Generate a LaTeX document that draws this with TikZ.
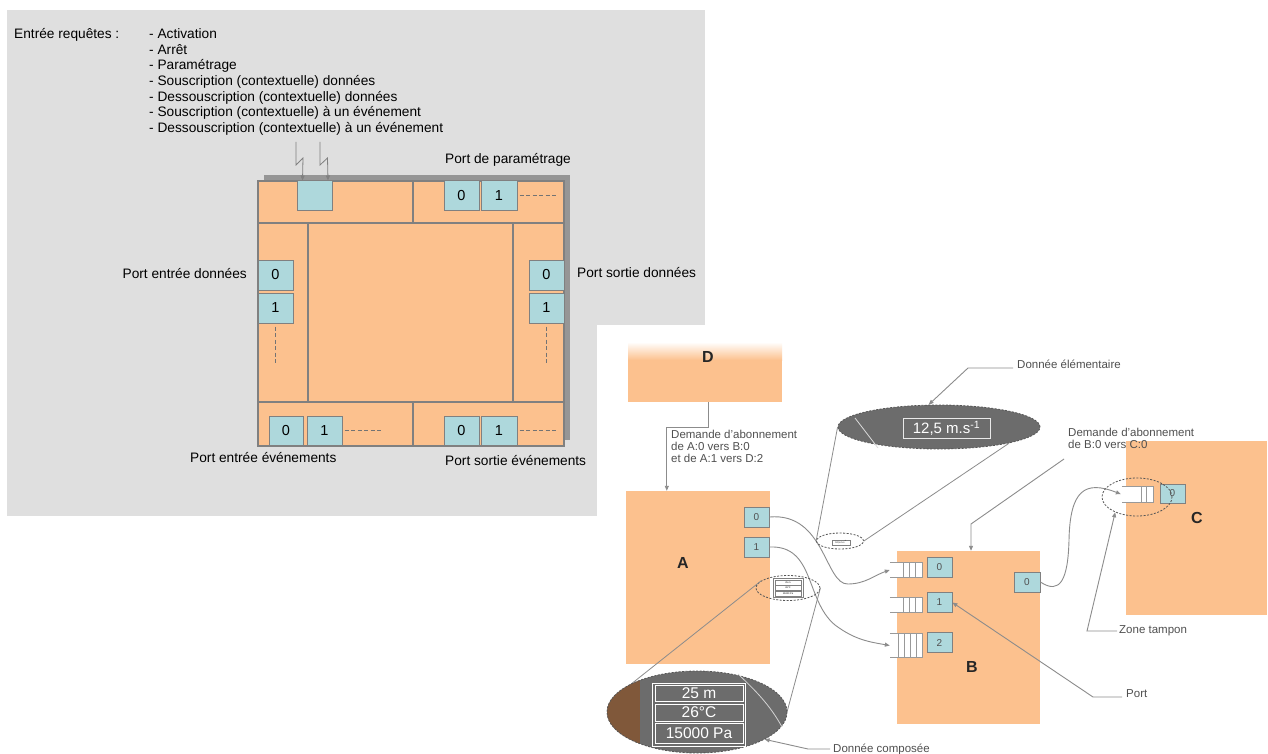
\documentclass[tikz,border=0pt]{standalone}
\usepackage{fontspec}
\setmainfont{Liberation Sans}
\usetikzlibrary{shapes.geometric,arrows.meta}
\definecolor{panelc}{RGB}{223,223,223}
\definecolor{orangec}{RGB}{252,193,142}
\definecolor{tealc}{RGB}{174,216,220}
\definecolor{bordc}{RGB}{128,128,128}
\definecolor{shadowc}{RGB}{150,150,150}
\definecolor{darkc}{RGB}{108,108,108}
\definecolor{brownc}{RGB}{128,88,58}
\definecolor{txtg}{RGB}{80,80,80}
\definecolor{lineg}{RGB}{140,140,140}
\newcommand\fsA{\fontsize{13.7}{15.6}\selectfont}
\newcommand\fsP{\fontsize{14.5}{16}\selectfont}
\newcommand\fsR{\fontsize{10}{12}\selectfont}
\newcommand\fsT{\fontsize{11.5}{12}\selectfont}
\newcommand\fsB{\fontsize{16}{18}\selectfont}
\newcommand\fsV{\fontsize{15.5}{17}\selectfont}
\newcommand\fsTiny{\fontsize{2.4}{3}\selectfont}
\begin{document}
\begin{tikzpicture}[x=1pt,y=-1pt,
 sec/.style={rectangle, draw=bordc, fill=orangec, line width=1.1pt, inner sep=0pt},
 lport/.style={rectangle, draw=bordc, fill=tealc, line width=1pt, inner sep=0pt, font=\fsP},
 lbl/.style={font=\fsA, inner sep=0pt},
 dashln/.style={draw=bordc!90!black, line width=1pt, dash pattern=on 4pt off 2.5pt},
 zig/.style={draw=bordc, line width=0.8pt, -{Triangle[length=5pt,width=4pt]}},
 rbox/.style={rectangle, fill=orangec, inner sep=0pt},
 rport/.style={rectangle, draw=bordc, fill=tealc, line width=0.8pt, inner sep=0pt, font=\fsR, text=txtg, minimum width=25pt, minimum height=20pt},
 buf/.style={rectangle, fill=white, inner sep=0pt, minimum width=32pt},
 bufl/.style={draw=bordc!80, line width=0.8pt},
 conn/.style={draw=lineg, line width=0.9pt, -{Triangle[length=5pt,width=4pt]}},
 cone/.style={draw=lineg, line width=0.8pt},
 dashell/.style={ellipse, draw=darkc!80!black, line width=0.8pt, dash pattern=on 2pt off 1.5pt, inner sep=0pt},
 rtxt/.style={font=\fsT, text=txtg, inner sep=0pt},
 bigl/.style={font=\fsB\bfseries, text=black!85, inner sep=0pt},
 vrow/.style={rectangle, draw=white, line width=0.8pt, text=white, font=\fsV, inner sep=0pt, minimum width=88pt},
 trow/.style={rectangle, draw=bordc, line width=0.3pt, fill=white, font=\fsTiny, inner sep=0pt, minimum width=26pt},
]
\useasboundingbox (0,0) rectangle (1268,754);
% ---------------- left panel ----------------
\fill[panelc] (7,10) rectangle (705,516);
\node[lbl, anchor=north west] (ereq) at (14,28) {Entrée requêtes :};
\node[lbl, anchor=north west, align=left] (reqlist) at (149,28.5) {- Activation\\- Arrêt\\- Paramétrage\\- Souscription (contextuelle) données\\- Dessouscription (contextuelle) données\\- Souscription (contextuelle) à un événement\\- Dessouscription (contextuelle) à un événement};
% shadow
\fill[shadowc] (264,175) rectangle (570,440);
% sections
\node[sec, minimum width=155pt, minimum height=42pt] (secTL) at (335.5,202) {};
\node[sec, minimum width=151pt, minimum height=42pt] (secTR) at (488.5,202) {};
\node[sec, minimum width=50pt, minimum height=179pt] (secML) at (283,312.5) {};
\node[sec, minimum width=205pt, minimum height=179pt] (secMC) at (410.5,312.5) {};
\node[sec, minimum width=51pt, minimum height=179pt] (secMR) at (538.5,312.5) {};
\node[sec, minimum width=155pt, minimum height=44pt] (secBL) at (335.5,424) {};
\node[sec, minimum width=151pt, minimum height=44pt] (secBR) at (488.5,424) {};
% ports
\node[lport, minimum width=35pt, minimum height=29pt] (reqp) at (314.5,195.5) {};
\node[lport, minimum width=35pt, minimum height=29pt] (pp0) at (461.5,195.5) {0};
\node[lport, minimum width=36pt, minimum height=29pt] (pp1) at (499,195.5) {1};
\node[lport, minimum width=35pt, minimum height=30pt] (ied0) at (275.5,275) {0};
\node[lport, minimum width=35pt, minimum height=30pt] (ied1) at (275.5,308) {1};
\node[lport, minimum width=35pt, minimum height=30pt] (osd0) at (546.5,275) {0};
\node[lport, minimum width=35pt, minimum height=30pt] (osd1) at (546.5,308) {1};
\node[lport, minimum width=34pt, minimum height=29pt] (iev0) at (286,430.5) {0};
\node[lport, minimum width=35pt, minimum height=29pt] (iev1) at (324.5,430.5) {1};
\node[lport, minimum width=35pt, minimum height=29pt] (oev0) at (461.5,430.5) {0};
\node[lport, minimum width=36pt, minimum height=29pt] (oev1) at (499,430.5) {1};
% continuation dashes
\draw[dashln] ([xshift=2pt]pp1.east) -- ++(38,0);
\draw[dashln] ([xshift=2pt]iev1.east) -- ++(38,0);
\draw[dashln] ([xshift=2pt]oev1.east) -- ++(38,0);
\draw[dashln] ([yshift=-3pt]ied1.south) -- ++(0,37);
\draw[dashln] ([yshift=-3pt]osd1.south) -- ++(0,37);
% lightning request arrows
\coordinate (z1) at (296,142);
\coordinate (z2) at (320,142);
\draw[zig] (z1) -- ++(0,23) -- ++(7,-7) -- ([xshift=6pt]reqp.north west);
\draw[zig] (z2) -- ++(0,23) -- ++(7.5,-7) -- ([xshift=-4.5pt]reqp.north east);
% labels
\node[lbl, anchor=west] (lpp) at (445,160) {Port de paramétrage};
\node[lbl, anchor=east] (lied) at (247,274) {Port entrée données};
\node[lbl, anchor=west] (losd) at (577,273) {Port sortie données};
\node[lbl, anchor=west] (liev) at (190,458) {Port entrée événements};
\node[lbl, anchor=west] (loev) at (445,461) {Port sortie événements};
% ---------------- right picture ----------------
\fill[white] (597,325) rectangle (1268,754);
% D box with fading top
\shade[top color=white, bottom color=orangec] (628,342) rectangle (782,360);
\fill[orangec] (628,359.5) rectangle (782,402);
\node[inner sep=0pt, minimum width=154pt, minimum height=60pt] (D) at (705,372) {};
\node[bigl] (Dl) at (708,357) {D};
% A, B, C boxes
\node[rbox, minimum width=144pt, minimum height=173pt] (A) at (698,577.5) {};
\node[rbox, minimum width=143pt, minimum height=173pt] (B) at (968.5,637.5) {};
\node[rbox, minimum width=141pt, minimum height=174pt] (C) at (1196.5,528) {};
\node[bigl] (Al) at (683,563) {A};
\node[bigl] (Bl) at (972,667) {B};
\node[bigl] (Cl) at (1197,518) {C};
% ports
\node[rport] (A0) at (756.5,517) {0};
\node[rport] (A1) at (756.5,547) {1};
\node[rport] (B0) at (939.5,567) {0};
\node[rport] (B1) at (939.5,602.5) {1};
\node[rport] (B2) at (939.5,642.7) {2};
\node[rport, minimum width=26pt] (Bo0) at (1027,582) {0};
\node[rport, minimum height=19pt] (C0) at (1172.5,493.5) {0};
% buffers
\node[buf, minimum height=14pt] (bi0) at (906,570) {};
\node[buf, minimum height=14pt] (bi1) at (906,605) {};
\node[buf, minimum height=23pt] (bi2) at (906,645.5) {};
\node[buf, minimum width=31pt, minimum height=15pt] (cbuf) at (1137.5,494.5) {};
\foreach \b in {bi0,bi1,bi2,cbuf}
  \draw[bufl] (\b.north west) -- (\b.north east) -- (\b.south east) -- (\b.south west);
\foreach \dx in {-19,-13,-6.5} {
  \draw[bufl] ([xshift=\dx pt]bi0.north east) -- ([xshift=\dx pt]bi0.south east);
  \draw[bufl] ([xshift=\dx pt]bi1.north east) -- ([xshift=\dx pt]bi1.south east);
}
\foreach \dx in {-24,-18,-12,-6}
  \draw[bufl] ([xshift=\dx pt]bi2.north east) -- ([xshift=\dx pt]bi2.south east);
\foreach \dx in {-11.5,-6.5}
  \draw[bufl] ([xshift=\dx pt]cbuf.north east) -- ([xshift=\dx pt]cbuf.south east);
% D -> A request
\draw[conn] ([xshift=3pt]D.south) -- ++(0,25) -| ([xshift=41pt]A.north west);
\node[rtxt, anchor=base west, align=left] (tda) at (671,462) {Demande d'abonnement\\de A:0 vers B:0\\et de A:1 vers D:2};
% data flows
\draw[conn] (A0.east) .. controls (825,512) and (825,585) .. (848,584) .. controls (865,584) and (875,575) .. (bi0.west);
\draw[conn] (A1.east) .. controls (815,545) and (805,600) .. (835,625) .. controls (855,640) and (870,642) .. (bi2.west);
\draw[conn, shorten >=1pt] (Bo0.east) .. controls (1060,595) and (1068,580) .. (1069,540) .. controls (1070,490) and (1085,480) .. (cbuf.west);
% small ellipses (zoom origins)
\node[dashell, minimum width=47pt, minimum height=16pt] (elsmall) at (840,541) {};
\node[rectangle, draw=bordc, line width=0.3pt, fill=white, font=\fsTiny, inner sep=0pt, minimum width=18pt, minimum height=5pt] (tinyv) at (841,542.5) {12,5 m.s\textsuperscript{-1}};
\node[dashell, minimum width=64pt, minimum height=25pt] (elcs) at (788,588) {};
\node[rectangle, draw=bordc, line width=0.4pt, fill=white, inner sep=0pt, minimum width=30pt, minimum height=19pt] (tinyt) at (788,587.5) {};
\node[trow, minimum height=5pt] (tr1) at (788,582.5) {25 m};
\node[trow, minimum height=5pt] (tr2) at (788,588) {26°C};
\node[trow, minimum height=5pt] (tr3) at (788,593.5) {15000 Pa};
\node[dashell, minimum width=70pt, minimum height=38pt] (elC) at (1137,497) {};
% elementary data magnified
\node[dashell, fill=darkc, minimum width=202pt, minimum height=44pt] (elbig) at (939,427) {};
\draw[cone] (elbig.west) -- (elsmall.west);
\draw[cone] (elbig.-13) -- (elsmall.east);
\draw[draw=white!75!darkc, line width=0.8pt] (855,418) -- (878,448);
\node[rectangle, draw=white!85!darkc, line width=0.8pt, text=white, font=\fontsize{15}{17}\selectfont, inner sep=0pt, minimum width=87pt, minimum height=20pt] (v125) at (946.5,428) {12,5 m.s\textsuperscript{-1}};
% composite data magnified
\draw[cone] (elcs.165) -- (611,700);
\draw[cone] (elcs.east) -- (787,712);
\node[ellipse, fill=darkc, inner sep=0pt, minimum width=180pt, minimum height=82pt] (elcomp) at (697,712) {};
\begin{scope}
  \clip (697,712) ellipse [x radius=90, y radius=41];
  \fill[brownc] (600,660) rectangle (640,760);
\end{scope}
\draw[darkc!80!black, line width=0.8pt, dash pattern=on 2pt off 1.5pt] (697,712) ellipse [x radius=90, y radius=41];
\draw[draw=white!70!darkc, line width=0.8pt] (738,674) .. controls (755,690) and (770,705) .. (782,727);
\node[rectangle, draw=white, line width=0.8pt, inner sep=0pt, minimum width=93pt, minimum height=63pt] (vtab) at (698.5,714.5) {};
\node[vrow, minimum height=16pt] (v1) at (699,693) {25 m};
\node[vrow, minimum height=17pt] (v2) at (699,712.5) {26°C};
\node[vrow, minimum height=20pt] (v3) at (699,733) {15000 Pa};
% annotations
\node[rtxt, anchor=west] (tde) at (1017,364) {Donnée élémentaire};
\draw[conn] ([xshift=-4pt,yshift=-4pt]tde.west) -- ++(-45,0) -- (elbig.115);
\node[rtxt, anchor=base west, align=left] (tbc) at (1068,448) {Demande d'abonnement\\de B:0 vers C:0};
\coordinate (lbc) at (1064,459);
\draw[conn] (lbc) -- (971,524) -- ([xshift=2.5pt]B.north);
\node[rtxt, anchor=west] (tzt) at (1119,631) {Zone tampon};
\draw[conn] ([xshift=-2pt]tzt.west) -- ++(-30,0) -- (elC.215);
\node[rtxt, anchor=west] (tport) at (1126,694) {Port};
\draw[conn] ([xshift=-4pt,yshift=-3pt]tport.west) -- ++(-29,0) -- (B1.east);
\node[rtxt, anchor=west] (tdc) at (833,749) {Donnée composée};
\draw[conn] ([xshift=-3pt]tdc.west) -- ++(-22,0) -- (elcomp.-22);
\end{tikzpicture}
\end{document}
